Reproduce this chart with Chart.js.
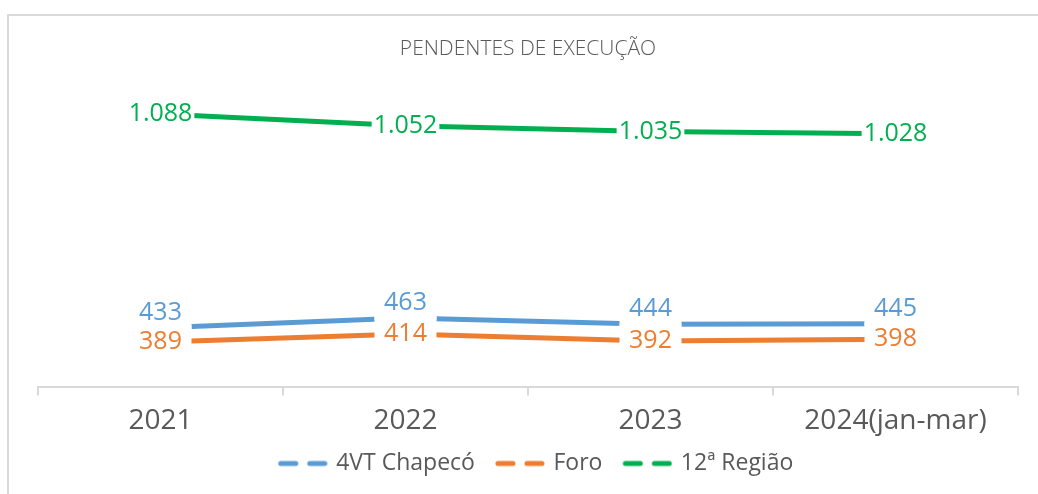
<!DOCTYPE html>
<html>
<head>
<meta charset="utf-8">
<script src="https://cdn.jsdelivr.net/npm/chart.js@4.4.1/dist/chart.umd.min.js"></script>
<style>
  body { margin: 0; background: #fff; }
  #frame { position: absolute; left: 7px; top: 14px; width: 1100px; height: 600px; border: 2px solid #d9d9d9; }
  #wrap { position: absolute; left: 0; top: 0; width: 1038px; height: 494px; }
</style>
</head>
<body>
<div id="frame"></div>
<div id="wrap"><canvas id="myChart" width="1038" height="494"></canvas></div>
<script>
// chart data
const categories = ["2021", "2022", "2023", "2024(jan-mar)"];
const seriesNames = ["4VT Chapecó", "Foro", "12ª Região"];
const chapeco = [433, 463, 444, 445];
const foro = [389, 414, 392, 398];
const regiao = [1088, 1052, 1035, 1028];

const colors = ["#5B9BD5", "#ED7D31", "#00B050"];
const labelShift = [-15, 0, 0];
const FONT = "'Open Sans'";

// 1088 -> "1.088"
function fmt(v) {
	return String(v).replace(/\B(?=(\d{3})+(?!\d))/g, ".");
}

// dashed legend symbol like the original (left part left blank as spacing)
function dashIcon(color) {
	const c = document.createElement("canvas");
	c.width = 68; c.height = 8;
	const g = c.getContext("2d");
	g.strokeStyle = color; g.lineWidth = 5; g.lineCap = "round";
	g.beginPath();
	g.moveTo(21, 4); g.lineTo(36, 4);
	g.moveTo(50, 4); g.lineTo(65, 4);
	g.stroke();
	return c;
}
const icons = colors.map(dashIcon);

// value labels with white boxes over the lines
const valueLabels = {
	id: "valueLabels",
	afterDatasetsDraw(chart) {
		const ctx = chart.ctx;
		ctx.save();
		ctx.font = "25px " + FONT;
		ctx.textAlign = "center";
		ctx.textBaseline = "middle";
		chart.data.datasets.forEach((ds, i) => {
			const meta = chart.getDatasetMeta(i);
			meta.data.forEach((pt, j) => {
				const text = fmt(ds.data[j]);
				const w = Math.max(ctx.measureText(text).width + 4, 62);
				const y = pt.y + labelShift[i];
				ctx.fillStyle = "#fff";
				ctx.fillRect(pt.x - w / 2, y - 17, w, 34);
				ctx.fillStyle = ds.borderColor;
				ctx.fillText(text, pt.x, y);
			});
		});
		ctx.restore();
	}
};

const ctx = document.getElementById("myChart").getContext("2d");
new Chart(ctx, {
	type: "line",
	data: {
		labels: categories,
		datasets: [chapeco, foro, regiao].map((d, i) => ({
			label: seriesNames[i],
			data: d,
			borderColor: colors[i],
			backgroundColor: colors[i],
			borderWidth: 5,
			pointRadius: 0,
			tension: 0,
			fill: false
		}))
	},
	options: {
		responsive: false,
		animation: false,
		layout: { padding: { left: 38, right: 20, top: 0, bottom: 9 } },
		scales: {
			x: {
				offset: true,
				grid: { offset: true, drawOnChartArea: false, drawTicks: true, tickLength: 8, color: "#d9d9d9", lineWidth: 2 },
				border: { color: "#d9d9d9", width: 2 },
				ticks: { color: "#595959", font: { family: FONT, size: 28 }, padding: 9 }
			},
			y: { display: false, min: 250, max: 1100 }
		},
		plugins: {
			title: {
				display: true,
				text: "PENDENTES DE EXECUÇÃO",
				color: "#595959",
				font: { family: FONT, size: 21, weight: 300 },
				padding: { top: 36, bottom: 49 }
			},
			legend: {
				position: "bottom",
				labels: {
					color: "#595959",
					font: { family: FONT, size: 23 },
					usePointStyle: true,
					pointStyleWidth: 62,
					padding: 5,
					generateLabels(chart) {
						const items = Chart.defaults.plugins.legend.labels.generateLabels(chart);
						items.forEach((it, i) => { it.pointStyle = icons[i]; });
						return items;
					}
				}
			},
			tooltip: { enabled: false }
		}
	},
	plugins: [valueLabels]
});
</script>
</body>
</html>
